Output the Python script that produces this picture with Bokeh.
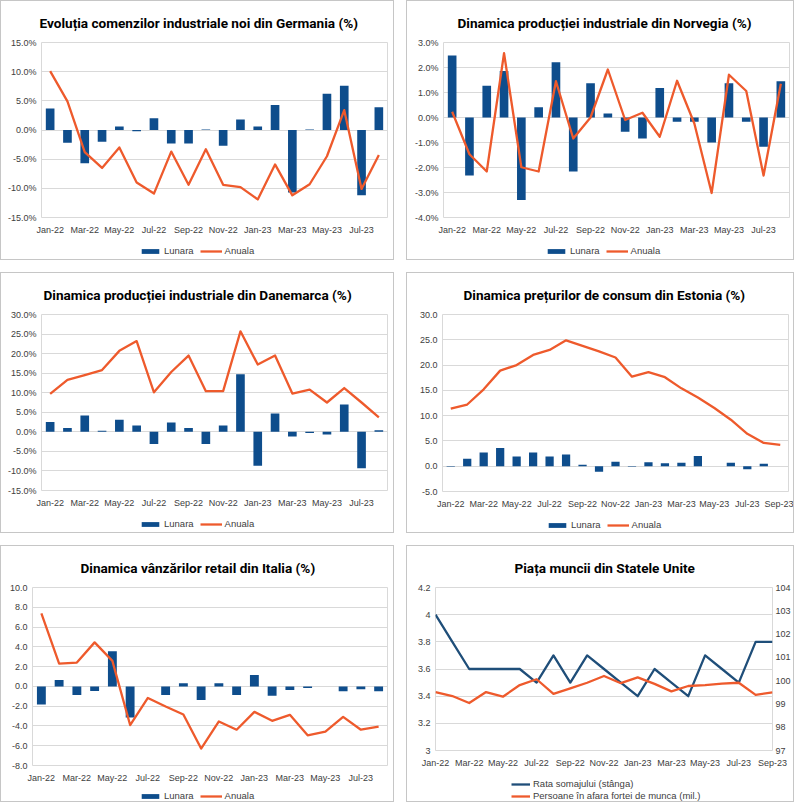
from bokeh.plotting import figure
from bokeh.models import (Range1d, LinearAxis, FixedTicker, PrintfTickFormatter,
                          NumeralTickFormatter, Legend, LegendItem)
from bokeh.layouts import row, column
from bokeh.embed import file_html
from bokeh.resources import INLINE

# ---------------- data ----------------
months = ["Jan-22", "Feb-22", "Mar-22", "Apr-22", "May-22", "Jun-22", "Jul-22",
          "Aug-22", "Sep-22", "Oct-22", "Nov-22", "Dec-22", "Jan-23", "Feb-23",
          "Mar-23", "Apr-23", "May-23", "Jun-23", "Jul-23", "Aug-23", "Sep-23"]

ger_lunara = [3.7, -2.2, -5.7, -2.0, 0.6, -0.2, 2.0, -2.3, -2.3, 0.1, -2.7, 1.8,
              0.6, 4.3, -10.7, 0.1, 6.2, 7.6, -11.2, 3.9]
ger_anuala = [10.1, 4.9, -3.8, -6.5, -3.0, -9.0, -10.9, -3.7, -9.4, -3.3, -9.4, -9.8,
              -11.9, -5.9, -11.2, -9.3, -4.5, 3.4, -10.1, -4.3]

nor_lunara = [2.48, -2.32, 1.27, 1.86, -3.3, 0.41, 2.21, -2.16, 1.37, 0.16, -0.57, -0.84,
              1.18, -0.17, -0.17, -1.0, 1.37, -0.17, -1.17, 1.45]
nor_anuala = [0.23, -1.47, -2.16, 2.57, -1.99, -2.16, 1.45, -0.84, 0.0, 1.92, -0.1, 0.19,
              -0.77, 1.47, -0.24, -3.02, 1.71, 1.06, -2.32, 1.35]

den_lunara = [2.5, 1.0, 4.2, 0.3, 3.1, 1.6, -3.1, 2.4, 1.0, -3.1, 1.6, 14.7,
              -8.7, 4.7, -1.2, -0.3, -0.7, 7.0, -9.3, 0.4]
den_anuala = [9.7, 13.3, 14.5, 15.8, 20.7, 23.2, 10.1, 15.3, 19.5, 10.4, 10.4, 25.7,
              17.2, 19.5, 9.8, 10.8, 7.5, 11.2, 7.5, 3.7]

est_lunara = [-0.1, 1.5, 2.7, 3.6, 1.9, 2.7, 1.9, 2.3, 0.3, -1.1, 0.9, -0.1,
              0.8, 0.6, 0.7, 2.0, 0.0, 0.7, -0.6, 0.5, 0.0]
est_anuala = [11.4, 12.2, 15.2, 18.9, 20.0, 22.0, 23.0, 24.9, 23.8, 22.7, 21.5, 17.7,
              18.6, 17.6, 15.4, 13.6, 11.5, 9.2, 6.4, 4.6, 4.2]

ita_lunara = [-1.84, 0.64, -0.87, -0.47, 3.55, -3.14, 0.0, -0.87, 0.33, -1.37, 0.33, -0.87,
              1.14, -0.94, -0.37, -0.17, 0.0, -0.5, -0.3, -0.5]
ita_anuala = [7.39, 2.31, 2.41, 4.45, 2.58, -3.91, -1.17, -2.04, -2.84, -6.29, -3.55, -4.38,
              -2.58, -3.48, -2.88, -4.95, -4.58, -3.08, -4.38, -4.08]

us_somaj = [4.0, 3.8, 3.6, 3.6, 3.6, 3.6, 3.5, 3.7, 3.5, 3.7, 3.6, 3.5,
            3.4, 3.6, 3.5, 3.4, 3.7, 3.6, 3.5, 3.8, 3.8]
us_persoane = [99.51, 99.34, 99.04, 99.51, 99.31, 99.81, 100.06, 99.43, 99.67, 99.91, 100.2, 99.89,
               100.14, 99.86, 99.54, 99.77, 99.81, 99.87, 99.91, 99.39, 99.5]

titles = ["Evoluția comenzilor industriale noi din Germania (%)",
          "Dinamica producției industriale din Norvegia (%)",
          "Dinamica producției industriale din Danemarca (%)",
          "Dinamica prețurilor de consum din Estonia (%)",
          "Dinamica vânzărilor retail din Italia (%)",
          "Piața muncii din Statele Unite"]
series_names = ["Lunara", "Anuala"]
us_names = ["Rata somajului (stânga)", "Persoane în afara fortei de munca (mil.)"]

# ---------------- style ----------------
BLUE = "#0e4d8c"
ORANGE = "#ee5a2c"
NAVY = "#1f4e79"
GRID = "#d9d9d9"
TXT = "#404040"
TICK_FONT = "Liberation Sans"
TITLE_FONT = "Roboto"
PANEL_BORDER = {"border": "1px solid #c6c6c6"}
NAN = float("nan")


def style_axis(ax, standoff):
    ax.axis_line_color = None
    ax.major_tick_line_color = None
    ax.minor_tick_line_color = None
    ax.major_tick_out = 0
    ax.major_tick_in = 0
    ax.minor_tick_out = 0
    ax.minor_tick_in = 0
    ax.major_label_text_font = TICK_FONT
    ax.major_label_text_font_size = "9px"
    ax.major_label_text_color = TXT
    ax.major_label_standoff = standoff


def inner(box):
    x, y, w, h = box
    return (x + 1, y + 1, w - 2, h - 2)


def make_fig(box, frame, title, title_left, x_range, y_range, yticks, yfmt, xticks):
    """Chart figure covering the panel from its top down to just below the x labels."""
    fx, fy, w, h = inner(box)
    l, r, t, b = frame
    ch = b + 22 - fy
    p = figure(width=w, height=ch, output_backend="svg", toolbar_location=None,
               x_range=x_range, y_range=y_range,
               min_border_left=l - fx, min_border_right=(fx + w) - r,
               min_border_top=t - fy, min_border_bottom=22)
    p.title.text = title
    p.title.text_font = TITLE_FONT
    p.title.text_font_style = "bold"
    p.title.text_font_size = "13.6px"
    p.title.text_color = "black"
    p.title.align = "left"
    p.title.standoff = 23
    p.title.offset = title_left - l
    p.outline_line_color = GRID
    p.background_fill_color = "white"
    p.border_fill_color = "white"
    p.xgrid.grid_line_color = None
    p.ygrid.grid_line_color = GRID
    p.yaxis.ticker = FixedTicker(ticks=yticks)
    p.yaxis.formatter = yfmt
    p.xaxis.ticker = FixedTicker(ticks=xticks)
    p.xaxis.major_label_overrides = {i: months[i] for i in xticks}
    style_axis(p.xaxis[0], 7)
    style_axis(p.yaxis[0], 5)
    return p


def legend_fig(box, frame, chart_h, entries, legend_left, legend_bottom,
               orientation="horizontal", spacing=6, glyph_width=22):
    """Strip under a chart holding its legend (so the legend is not clipped)."""
    fx, fy, w, h = inner(box)
    lh = h - chart_h
    q = figure(width=w, height=lh, output_backend="svg", toolbar_location=None,
               x_range=Range1d(0, 1), y_range=Range1d(0, 1),
               x_axis_location=None, y_axis_location=None,
               min_border_left=0, min_border_right=0, min_border_top=0, min_border_bottom=0)
    q.outline_line_color = None
    q.xgrid.grid_line_color = None
    q.ygrid.grid_line_color = None
    q.background_fill_color = "white"
    q.border_fill_color = "white"
    items = []
    for label, kind, color in entries:
        if kind == "bar":
            rr = q.vbar(x=[NAN], top=[NAN], width=0.5, fill_color=color, line_color=None)
        else:
            rr = q.line(x=[NAN], y=[NAN], line_color=color, line_width=2.3)
        items.append(LegendItem(label=label, renderers=[rr]))
    # the strip's frame is aligned with the chart frame above it
    leg = Legend(items=items, location=(legend_left - frame[0], (fy + h) - legend_bottom),
                 orientation=orientation, padding=0, margin=0, border_line_color=None,
                 background_fill_alpha=0, label_text_font=TICK_FONT,
                 label_text_font_size="9.5px", label_text_color=TXT,
                 glyph_width=glyph_width, glyph_height=6, label_standoff=3,
                 spacing=spacing)
    q.add_layout(leg)
    return q


def bar_line_panel(box, frame, title, title_left, lunara, anuala, ylo, yhi, ystep,
                   yfmt, legend_left, legend_bottom):
    n = len(lunara)
    x = list(range(n))
    yticks = []
    v = ylo
    while v <= yhi + 1e-9:
        yticks.append(round(v, 6))
        v += ystep
    xticks = list(range(0, n, 2))
    p = make_fig(box, frame, title, title_left, Range1d(-0.5, n - 0.5),
                 Range1d(ylo, yhi), yticks, yfmt, xticks)
    p.vbar(x=x, top=lunara, bottom=0, width=0.5, fill_color=BLUE, line_color=None)
    p.line(x=x, y=anuala, line_color=ORANGE, line_width=2.3, line_join="round")
    q = legend_fig(box, frame, p.height, [(series_names[0], "bar", BLUE),
                                          (series_names[1], "line", ORANGE)],
                   legend_left, legend_bottom)
    return column(p, q, spacing=0, styles=PANEL_BORDER)


g1 = bar_line_panel((0, 0, 394, 260), (41, 387, 41, 217), titles[0], 39,
                    ger_lunara, ger_anuala, -15, 15, 5, PrintfTickFormatter(format="%.1f%%"),
                    139, 256)
g2 = bar_line_panel((404, 0, 388, 260), (441, 787, 41, 217), titles[1], 455,
                    nor_lunara, nor_anuala, -4, 3, 1, PrintfTickFormatter(format="%.1f%%"),
                    543, 256)
g3 = bar_line_panel((0, 270, 394, 261), (41, 387, 311, 488), titles[2], 43,
                    den_lunara, den_anuala, -15, 30, 5, PrintfTickFormatter(format="%.1f%%"),
                    139, 527)
g4 = bar_line_panel((404, 270, 388, 261), (440, 786, 311, 489), titles[3], 461,
                    est_lunara, est_anuala, -5, 30, 5, PrintfTickFormatter(format="%.1f"),
                    544, 528)
g5 = bar_line_panel((0, 541, 394, 257), (32, 387, 582, 761), titles[4], 80,
                    ita_lunara, ita_anuala, -8, 10, 2, PrintfTickFormatter(format="%.1f"),
                    139, 797)

# US labour market panel
box6 = (404, 541, 388, 257)
frame6 = (433, 771, 582, 746)
n6 = len(us_somaj)
x6 = list(range(n6))
p6 = make_fig(box6, frame6, titles[5], 512,
              Range1d(0, n6 - 1), Range1d(3, 4.2),
              [3.0, 3.2, 3.4, 3.6, 3.8, 4.0, 4.2], NumeralTickFormatter(format="0.[0]"),
              list(range(0, n6, 2)))
p6.extra_y_ranges = {"r": Range1d(97, 104)}
rax = LinearAxis(y_range_name="r", ticker=FixedTicker(ticks=list(range(97, 105))))
style_axis(rax, 3)
p6.add_layout(rax, "right")
p6.line(x=x6, y=us_somaj, line_color=NAVY, line_width=2.3, line_join="round")
p6.line(x=x6, y=us_persoane, line_color=ORANGE, line_width=2.3, line_join="round",
        y_range_name="r")
q6 = legend_fig(box6, frame6, p6.height, [(us_names[0], "line", NAVY),
                                          (us_names[1], "line", ORANGE)],
                509, 797, orientation="vertical", spacing=1, glyph_width=19)
g6 = column(p6, q6, spacing=0, styles=PANEL_BORDER)

layout = column(row(g1, g2, spacing=12),
                row(g3, g4, spacing=12),
                row(g5, g6, spacing=12),
                spacing=12)

open("out.html", "w").write(file_html(layout, INLINE))
